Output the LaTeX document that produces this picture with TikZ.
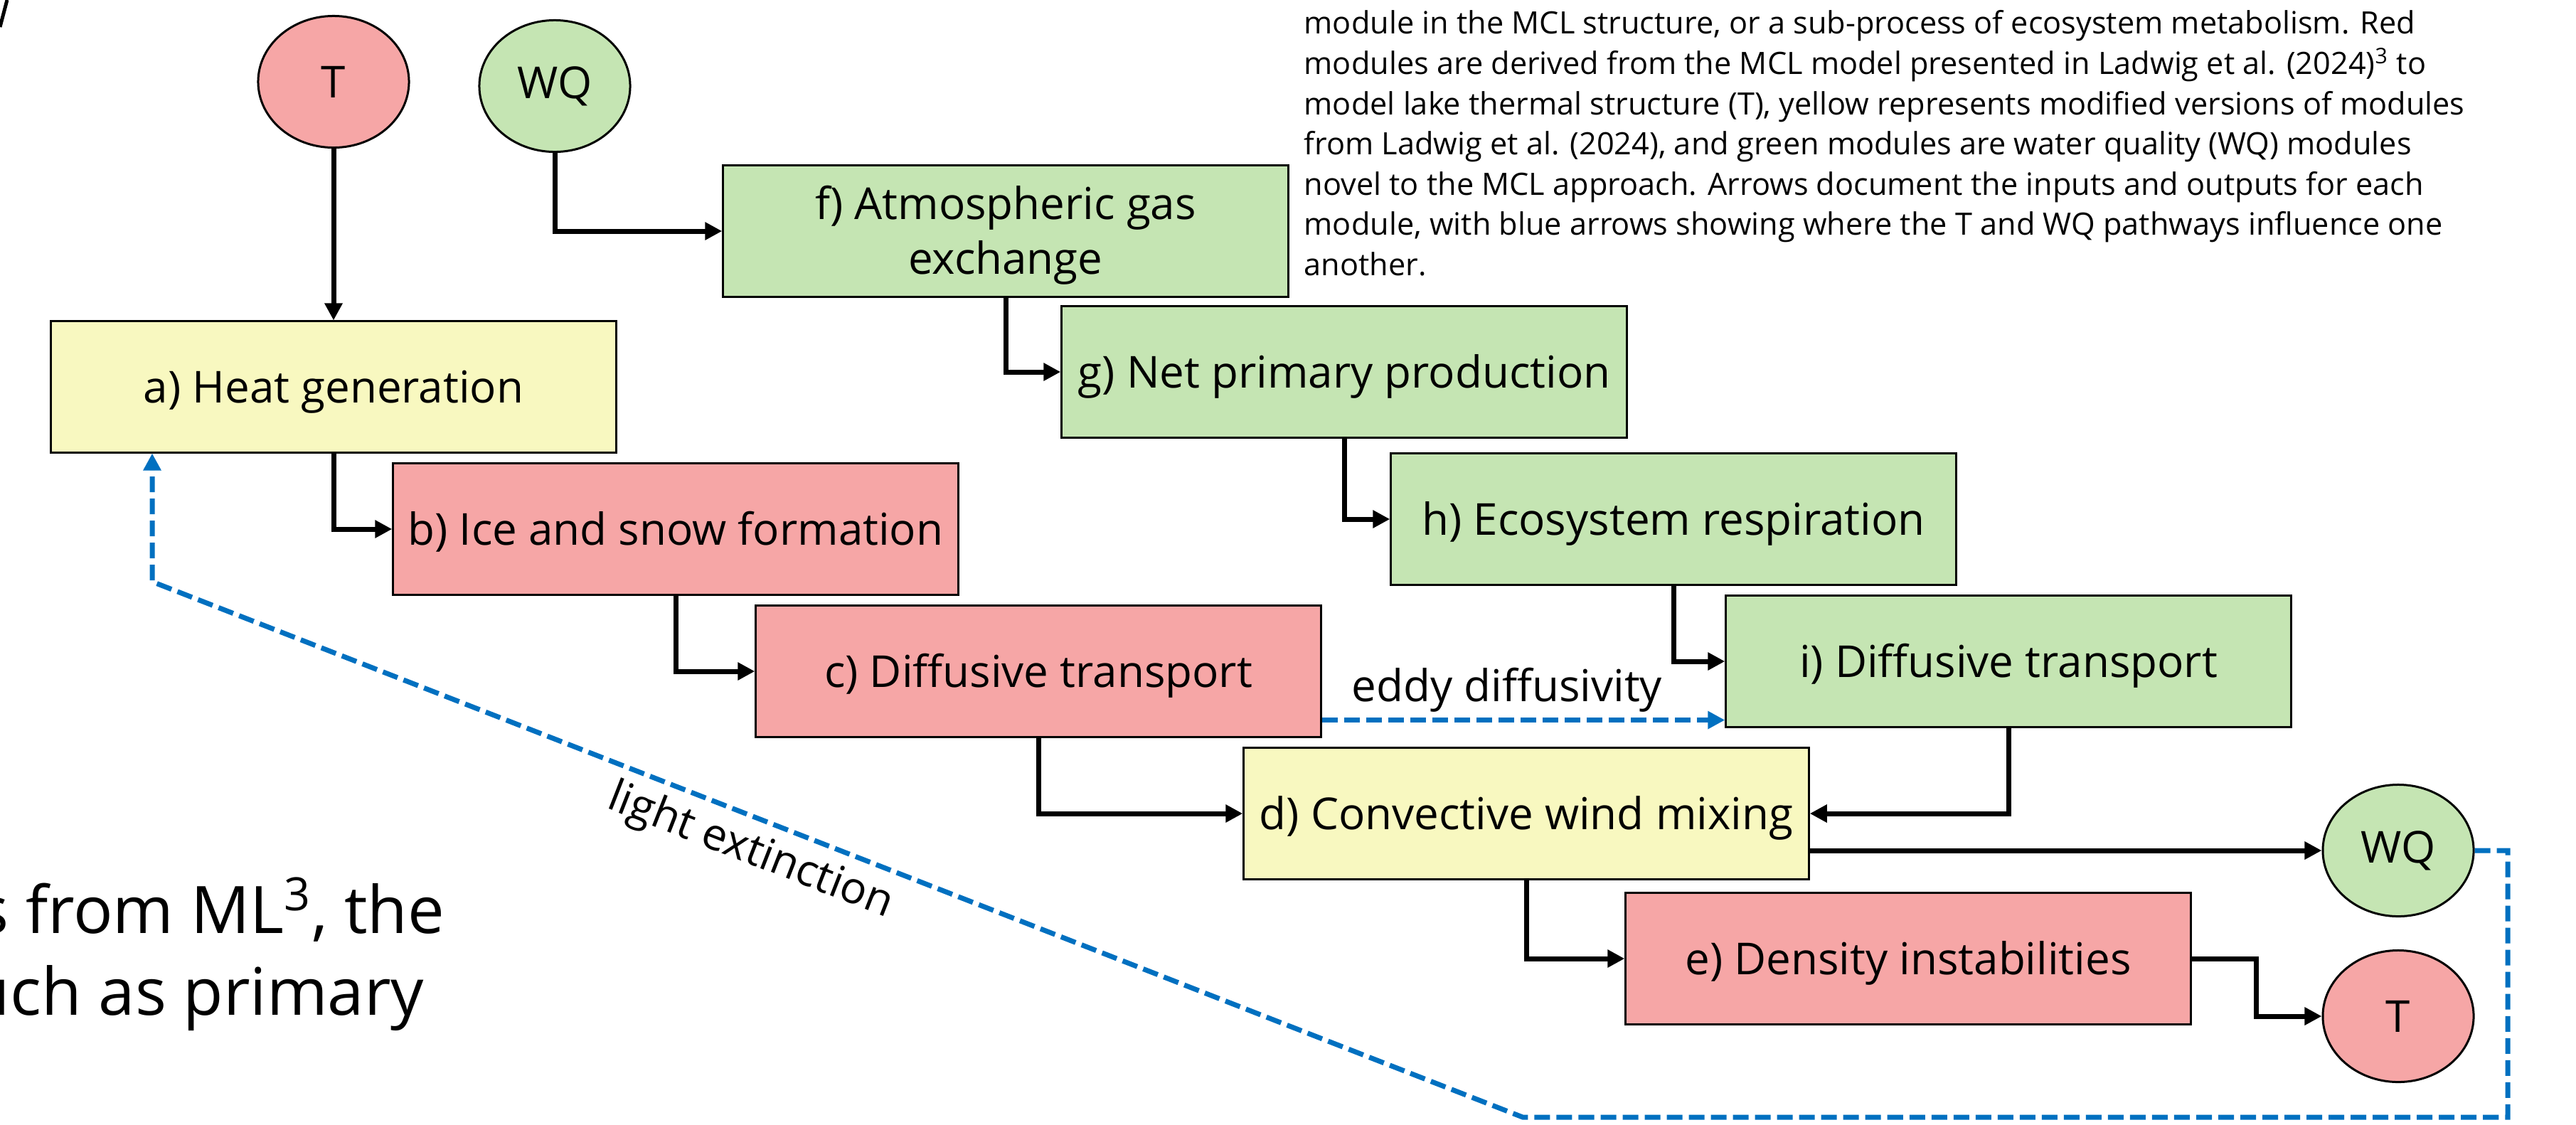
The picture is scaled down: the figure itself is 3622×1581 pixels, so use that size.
\documentclass[tikz,border=0pt]{standalone}
\usepackage{fontspec}
\setmainfont{Open Sans}
\usetikzlibrary{arrows.meta,shapes.geometric}
\definecolor{redfill}{RGB}{246,166,166}
\definecolor{yelfill}{RGB}{248,248,192}
\definecolor{grnfill}{RGB}{197,229,179}
\definecolor{linkblue}{RGB}{0,112,192}
\begin{document}
\begin{tikzpicture}[x=0.01cm,y=-0.01cm,
  module/.style={draw=black,line width=0.03cm,minimum width=7.94cm,minimum height=1.84cm,inner sep=0,align=center,font=\fontsize{17.6}{21.9}\selectfont},
  oneline/.style={text height=0.59cm,text depth=0.15cm},
  redmod/.style={module,oneline,fill=redfill},
  yelmod/.style={module,oneline,fill=yelfill},
  grnmod/.style={module,oneline,fill=grnfill},
  grnmodtwo/.style={module,fill=grnfill},
  stnode/.style={ellipse,draw=black,line width=0.03cm,minimum width=2.12cm,minimum height=1.85cm,inner sep=0,font=\fontsize{17.6}{21.9}\selectfont},
  flow/.style={line width=0.07cm,-{Triangle[length=0.24cm,width=0.24cm]}},
  link/.style={draw=linkblue,line width=0.07cm,dash pattern=on 0.22cm off 0.09cm,-{Triangle[length=0.24cm,width=0.24cm,fill=linkblue]}},
  lbl/.style={font=\fontsize{17.6}{21.9}\selectfont},
  bigtxt/.style={font=\fontsize{26.2}{32}\selectfont,inner sep=0},
  captxt/.style={font=\fontsize{12.3}{16.1}\selectfont,inner sep=0,align=left}
]
\useasboundingbox (0,0) rectangle (3622,1581);

% fragment at top-left corner
\draw[line width=0.05cm] (0,38) -- (10,0);

% state nodes
\node[stnode,fill=redfill] (t1) at (469,115) {T};
\node[stnode,fill=grnfill] (wq1) at (780,121) {WQ};
\node[stnode,fill=grnfill] (wq2) at (3372,1196) {WQ};
\node[stnode,fill=redfill] (t2) at (3372,1429) {T};

% modules
\node[yelmod] (a) at (469,544) {a) Heat generation};
\node[redmod] (b) at (950,744) {b) Ice and snow formation};
\node[redmod] (c) at (1460,944) {c) Diffusive transport};
\node[yelmod] (d) at (2146,1144) {d) Convective wind mixing};
\node[redmod] (e) at (2683,1348) {e) Density instabilities};
\node[grnmodtwo] (f) at (1414,325) {\rule{0pt}{0.59cm}f) Atmospheric gas\\exchange};
\node[grnmod] (g) at (1890,523) {g) Net primary production};
\node[grnmod] (h) at (2353,730) {h) Ecosystem respiration};
\node[grnmod] (i) at (2824,930) {i) Diffusive transport};

% black flows
\draw[flow] (t1) -- (a);
\draw[flow] (wq1.south) |- (f.west);
\draw[flow] (a.south) |- (b.west);
\draw[flow] (b.south) |- (c.west);
\draw[flow] (c.south) |- (d.west);
\draw[flow] (d.south) |- (e.west);
\draw[flow] (f.south) |- (g.west);
\draw[flow] (g.south) |- (h.west);
\draw[flow] (h.south) |- (i.west);
\draw[flow] (i.south) |- (d.east);
\draw[flow] (d.east |- wq2.west) -- (wq2.west);
\draw[flow] (e.east) -- ++(91,0) |- (t2.west);

% blue links
\coordinate (ed) at ([yshift=0.25cm]c.south east);
\draw[link] (ed) -- node[lbl,above,inner sep=0.08cm,xshift=-0.23cm] {eddy diffusivity} (ed -| i.west);
\coordinate (fb1) at (3526,1571);
\coordinate (fb2) at (2141,1571);
\coordinate (fb3) at (214,818);
\draw[link] (wq2.east) -| (fb1) -- (fb2) -- (fb3) -- (fb3 |- a.south);
\node[lbl,rotate=-21.34] (le) at (1055,1198) {light extinction};

% left cut-off text
\node[bigtxt,anchor=base east] (lt1) at (626,1312) {s from ML\textsuperscript{3}, the};
\node[bigtxt,anchor=base east] (lt2) at (597,1427) {uch as primary};

% caption text
\node[captxt,anchor=north west] (cap) at (1833,14) {module in the MCL structure, or a sub-process of ecosystem metabolism. Red\\
modules are derived from the MCL model presented in Ladwig et al. (2024)\textsuperscript{3} to\\
model lake thermal structure (T), yellow represents modified versions of modules\\
from Ladwig et al. (2024), and green modules are water quality (WQ) modules\\
novel to the MCL approach. Arrows document the inputs and outputs for each\\
module, with blue arrows showing where the T and WQ pathways influence one\\
another.};
\end{tikzpicture}
\end{document}
